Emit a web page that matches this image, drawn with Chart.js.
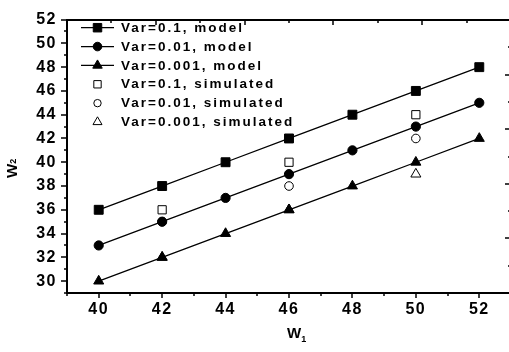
<!DOCTYPE html>
<html><head><meta charset="utf-8">
<script src="https://cdn.jsdelivr.net/npm/chart.js@4.4.1/dist/chart.umd.min.js"></script>
<style>
html,body{margin:0;padding:0;overflow:hidden;background:#fff;width:509px;height:352px}
#wrap{position:absolute;left:0;top:0;width:520px;height:352px}
</style>
</head><body><div id="wrap"><canvas id="c" width="520" height="352"></canvas></div>
<script>
// ---- data ----
const modelW1 = [40, 42, 44, 46, 48, 50, 52];
const modelVar01 = [36, 38, 40, 42, 44, 46, 48];
const modelVar001 = [33, 35, 37, 39, 41, 43, 45];
const modelVar0001 = [30, 32, 34, 36, 38, 40, 42];
const simW1 = [42, 46, 50];
const simVar01 = [36, 40, 44];
const simVar001 = [35, 38, 42];
const simVar0001 = [32, 36, 39];
const xTickValues = [40, 42, 44, 46, 48, 50, 52];
const yTickValues = [30, 32, 34, 36, 38, 40, 42, 44, 46, 48, 50, 52];
const seriesLabels = ['Var=0.1, model', 'Var=0.01, model', 'Var=0.001, model',
                      'Var=0.1, simulated', 'Var=0.01, simulated', 'Var=0.001, simulated'];
const xTitle = 'W', xTitleSub = '1';
const yTitle = 'W', yTitleSub = '2';

const zip = (xs, ys) => xs.map((x, i) => ({x: x, y: ys[i]}));
const FONT = 'Arial, "Liberation Sans", sans-serif';

function modelSet(label, ys, style, r) {
  return {label, data: zip(modelW1, ys), showLine: true, borderColor: '#000', borderWidth: 1.3,
    pointStyle: style, pointRadius: r, pointHoverRadius: r, pointBackgroundColor: '#000',
    pointBorderColor: '#000', pointBorderWidth: 1, isModel: true};
}
function simSet(label, ys, style, r) {
  return {label, data: zip(simW1, ys), showLine: false, borderColor: '#000', borderWidth: 1,
    pointStyle: style, pointRadius: r, pointHoverRadius: r, pointBackgroundColor: '#fff',
    pointBorderColor: '#000', pointBorderWidth: 1, isModel: false};
}

const datasets = [
  modelSet(seriesLabels[0], modelVar01, 'rect', 6.3),
  modelSet(seriesLabels[1], modelVar001, 'circle', 4.6),
  modelSet(seriesLabels[2], modelVar0001, 'triangle', 5.8),
  simSet(seriesLabels[3], simVar01, 'rect', 5.8),
  simSet(seriesLabels[4], simVar001, 'circle', 4.3),
  simSet(seriesLabels[5], simVar0001, 'triangle', 5.8)
];

const decor = {
  id: 'decor',
  beforeDraw(chart) { chart.ctx.letterSpacing = '1.5px'; },
  afterDraw(chart) {
    const ctx = chart.ctx, ca = chart.chartArea;
    const xs = chart.scales.x, ys = chart.scales.y;
    ctx.save();
    ctx.strokeStyle = '#000'; ctx.fillStyle = '#000';
    const L = Math.round(ca.left), R = Math.round(ca.right), T = Math.round(ca.top), B = Math.round(ca.bottom);
    ctx.lineWidth = 1.5;
    ctx.beginPath();
    for (let v = Math.ceil(ys.min); v <= ys.max; v++) {
      const y = Math.round(ys.getPixelForValue(v));
      const len = yTickValues.includes(v) ? 6 : 3;
      ctx.moveTo(L, y); ctx.lineTo(L - len, y);
    }
    for (let v = Math.ceil(xs.min); v <= xs.max; v++) {
      const x = Math.round(xs.getPixelForValue(v));
      const len = xTickValues.includes(v) ? 5 : 3;
      ctx.moveTo(x, B); ctx.lineTo(x, B + len);
    }
    for (let i = 0; i <= 10; i++) {
      const x = Math.round(L + (R - L) * i / 10);
      const len = i % 2 === 0 ? 5 : 3;
      ctx.moveTo(x, T); ctx.lineTo(x, T + len);
    }
    for (let i = 0; i <= 10; i++) {
      const y = Math.round(T + (B - T) * i / 10);
      const len = i % 2 === 0 ? 6 : 3;
      ctx.moveTo(R, y); ctx.lineTo(R - len, y);
    }
    ctx.stroke();

    // legend
    ctx.letterSpacing = '2px';
    ctx.font = 'bold 13.5px ' + FONT;
    ctx.textBaseline = 'middle';
    ctx.textAlign = 'left';
    chart.data.datasets.forEach((ds, i) => {
      const y = 27.7 + i * 18.86;
      if (ds.isModel) {
        ctx.strokeStyle = '#000';
        ctx.lineWidth = 1.3;
        ctx.beginPath(); ctx.moveTo(81, y); ctx.lineTo(114, y); ctx.stroke();
      }
      ctx.fillStyle = ds.pointBackgroundColor;
      ctx.strokeStyle = ds.pointBorderColor;
      ctx.lineWidth = 1;
      Chart.helpers.drawPoint(ctx, {pointStyle: ds.pointStyle, rotation: 0,
        radius: ds.isModel ? ds.pointRadius - 0.3 : ds.pointRadius - 0.6, borderWidth: 1}, 97.5, y);
      ctx.fillStyle = '#000';
      ctx.fillText(ds.label, 121, y + 0.5);
    });

    // axis titles
    ctx.letterSpacing = '1px';
    ctx.textBaseline = 'alphabetic';
    ctx.font = 'bold 15px ' + FONT;
    const wX = 287;
    ctx.fillText(xTitle, wX, 338);
    const wWidth = ctx.measureText(xTitle).width;
    ctx.font = 'bold 9px ' + FONT;
    ctx.fillText(xTitleSub, wX + wWidth - 1, 342);

    ctx.translate(17, 178);
    ctx.rotate(-Math.PI / 2);
    ctx.font = 'bold 15px ' + FONT;
    ctx.fillText(yTitle, 0, 0);
    const w2 = ctx.measureText(yTitle).width;
    ctx.font = 'bold 9px ' + FONT;
    ctx.fillText(yTitleSub, w2 - 1, -1);
    ctx.restore();
  }
};

const borderOpt = {display: true, width: 2, color: '#000'};
const noGrid = {display: false, drawTicks: false};

new Chart(document.getElementById('c'), {
  type: 'scatter',
  data: {datasets},
  options: {
    responsive: false, animation: false, devicePixelRatio: 1,
    layout: {padding: {top: 13, right: 9, left: 0, bottom: 0}},
    plugins: {legend: {display: false}, tooltip: {enabled: false}},
    scales: {
      x: {type: 'linear', position: 'bottom', min: 39, max: 53,
        grid: noGrid, border: borderOpt,
        ticks: {font: {family: FONT, weight: 'bold', size: 16}, color: '#000', padding: 7,
          maxRotation: 0, autoSkip: false},
        afterBuildTicks: s => { s.ticks = xTickValues.map(v => ({value: v})); },
        afterFit: s => { s.height = 59; }},
      y: {type: 'linear', position: 'left', min: 29, max: 52,
        grid: noGrid, border: borderOpt,
        ticks: {font: {family: FONT, weight: 'bold', size: 16}, color: '#000', padding: 10,
          autoSkip: false},
        afterBuildTicks: s => { s.ticks = yTickValues.map(v => ({value: v})); },
        afterFit: s => { s.width = 67; }},
      xTop: {type: 'linear', position: 'top', min: 0, max: 10,
        grid: noGrid, border: borderOpt, ticks: {display: false},
        afterFit: s => { s.height = 0; }},
      yRight: {type: 'linear', position: 'right', min: 0, max: 10,
        grid: noGrid, border: borderOpt, ticks: {display: false},
        afterFit: s => { s.width = 0; }}
    }
  },
  plugins: [decor]
});
</script>
</body></html>
